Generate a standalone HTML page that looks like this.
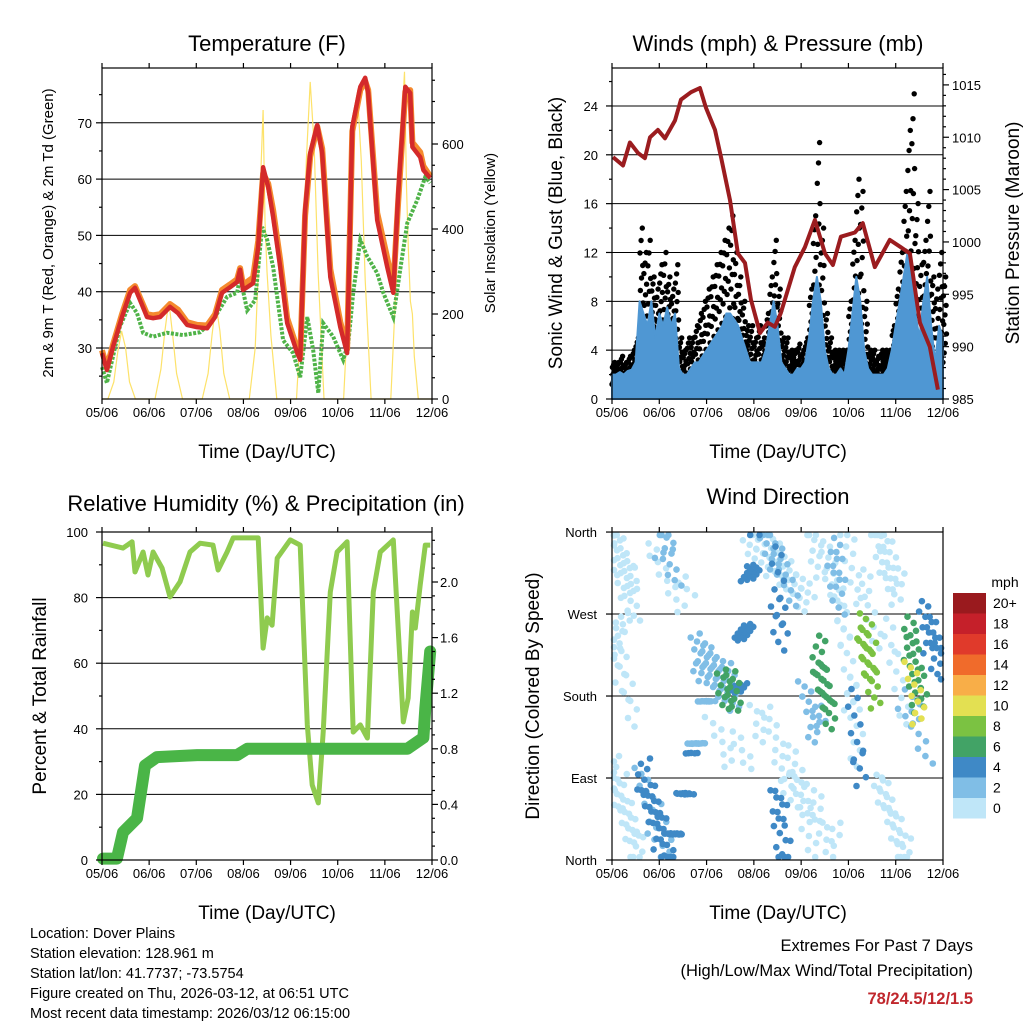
<!DOCTYPE html>
<html><head><meta charset="utf-8"><style>
html,body{margin:0;padding:0;background:#fff}
svg{display:block;font-family:"Liberation Sans",sans-serif}
</style></head><body>
<svg id="chart" xmlns="http://www.w3.org/2000/svg" width="1024" height="1024" viewBox="0 0 1024 1024">
<rect width="1024" height="1024" fill="#fff"/>
<g id="marks"></g>
<g id="axes" fill="none" stroke="#000" stroke-width="1.2"></g>
<g font-size="22" text-anchor="middle" fill="#000">
<text x="267" y="51">Temperature (F)</text>
<text x="778" y="51">Winds (mph) &amp; Pressure (mb)</text>
<text x="266" y="511">Relative Humidity (%) &amp; Precipitation (in)</text>
<text x="778" y="504">Wind Direction</text>
</g>
<g font-size="19" text-anchor="middle">
<text x="267" y="458">Time (Day/UTC)</text>
<text x="778" y="458">Time (Day/UTC)</text>
<text x="267" y="919">Time (Day/UTC)</text>
<text x="778" y="919">Time (Day/UTC)</text>
<text font-size="15" transform="translate(53,233) rotate(-90)">2m &amp; 9m T (Red, Orange) &amp; 2m Td (Green)</text>
<text font-size="15" transform="translate(495,233) rotate(-90)">Solar Insolation (Yellow)</text>
<text transform="translate(562,233) rotate(-90)">Sonic Wind &amp; Gust (Blue, Black)</text>
<text transform="translate(1019,233) rotate(-90)">Station Pressure (Maroon)</text>
<text transform="translate(46,696) rotate(-90)">Percent &amp; Total Rainfall</text>
<text transform="translate(539,696) rotate(-90)">Direction (Colored By Speed)</text>
</g>
<g id="ticklabels" font-size="13" fill="#000"></g>
<g id="legend"></g>
<g font-size="14.5" fill="#000">
<text x="30" y="938">Location: Dover Plains</text>
<text x="30" y="958">Station elevation: 128.961 m</text>
<text x="30" y="978">Station lat/lon: 41.7737; -73.5754</text>
<text x="30" y="998">Figure created on Thu, 2026-03-12, at 06:51 UTC</text>
<text x="30" y="1018">Most recent data timestamp: 2026/03/12 06:15:00</text>
</g>
<g font-size="16.5" text-anchor="end">
<text x="973" y="951">Extremes For Past 7 Days</text>
<text x="973" y="976">(High/Low/Max Wind/Total Precipitation)</text>
<text x="973" y="1004" fill="#c0272d" font-weight="bold">78/24.5/12/1.5</text>
</g>
</svg>
<script>
// ---------- DATA ----------
const dayLabels = ["05/06","06/06","07/06","08/06","09/06","10/06","11/06","12/06"];
const tempTicks = [30,40,50,60,70];
const solarTicks = [0,200,400,600];
const windTicks = [0,4,8,12,16,20,24];
const pressTicks = [985,990,995,1000,1005,1010,1015];
const rhTicks = [0,20,40,60,80,100];
const rainTicks = ["0.0","0.4","0.8","1.2","1.6","2.0"];
const dirTicks = ["North","East","South","West","North"];
const speedLabels = ["0","2","4","6","8","10","12","14","16","18","20+"];

const redHours = [0,2.5,5.6,10.2,14.3,16.8,19.4,22.9,26,29.6,34.6,38.7,43.3,48.4,53.5,57.6,61.1,65.2,68.8,70.3,71.8,76.9,79.5,82,84.6,87.1,90.7,94.3,99.4,100.9,103.4,106,109.6,112.1,116.2,121.3,124.8,127.4,131.5,134,135.5,140.1,145.2,148.3,150.8,154.4,156.9,158,162,163.6,167.1];
const redTemps = [29.1,26.1,30.2,35.5,39.8,40.7,38.5,35.5,35.3,35.5,37.3,36.2,34.1,33.7,33.5,35.5,39.8,40.8,41.7,43.9,40.3,41.5,47.9,62.1,58.6,53.3,44.4,34.4,29.1,27.9,54.5,64.6,69.6,64.6,42.6,33.7,29.1,69.3,76.4,78.0,75.3,52.7,44.4,39.8,57.5,76.4,75.3,65.7,63.9,61.6,60.2];
const orangeTemps = [29.6,26.5,30.6,36,40.3,41,38.9,36,35.8,36,37.8,36.8,34.6,34.1,34,36,40.3,41.3,42.2,44.2,41.2,42.5,49,61,59.2,54.5,45.6,35.3,29.8,28.5,53.5,64,69.3,65.4,44,34.6,29.8,68.5,75.8,77.4,75.8,54,46,41,56,75.5,75.8,66.5,64.8,62.3,60.5];
const dewHours = [0,2.5,9,14.3,17.8,20.9,26,33.1,41.3,50,56.6,63.7,68.8,70.3,73.9,78,81.5,84.1,87.1,92.2,97.3,100.9,104.5,107.5,110.1,112.6,117.7,122.8,125.4,127.9,131.5,135.1,140.1,143.2,148.3,151.8,155.4,160.5,164.6,167.1];
const dewTemps = [26.6,23.8,33.7,38,36.2,32.7,32,32.7,32.3,32.8,35,39.1,39.8,42.6,36.7,38.5,51.5,49.2,44.4,31.4,29.1,24.8,35.5,29.6,22,34.4,32,27.9,30.9,39.8,49.2,46.2,43.3,39.8,35.5,43.9,52.2,56.3,60.4,59.3];
const solarHours = [0,3,6,8,10,12,14,17,27,30,32,34,36,38,41,51,54,56,58,60,62,65,75,78,80,81,82,83,84,86,89,99,102,104,106,108,110,113,123,126,128,130,132,134,137,147,150,152,154,155,156,157,158,159,161,168];
const solarValues = [0,0,40,110,160,120,40,0,0,70,160,230,150,60,0,0,60,150,225,160,60,0,0,120,350,550,680,420,300,150,0,0,250,560,746,600,300,0,0,280,600,720,560,280,0,0,300,600,770,500,350,230,200,100,0,0];

const pressHours = [0.5,5.6,9.1,13.2,16.7,19.3,23.3,26.9,32,35,40.1,44.6,47.7,52.3,55.3,59.9,63.9,67.5,70.5,75.1,79.1,82.7,85.7,92.8,97.9,103,108.1,112.1,116.2,123.3,127.3,133.4,141,146.6,151.2,156.3,161.3,165.4];
const pressValues = [1008.1,1007.3,1009.5,1008.5,1008,1010,1010.7,1009.9,1011.6,1013.6,1014.3,1014.7,1012.8,1010.7,1008.1,1004,998.9,998,994.5,991.3,992.3,991.9,993.2,997.6,999.5,1002.1,998.9,997.8,1000.5,1000.9,1001.8,997.6,1000.2,999.5,998.9,992.3,990,985.9];
const windHours = [0,2,4,6,8,10,12,14,16,18,20,22,24,26,28,30,32,34,36,38,40,42,44,46,48,50,52,54,56,58,60,62,64,66,68,70,72,74,76,78,80,82,84,86,88,90,92,94,96,98,100,102,104,106,108,110,112,114,116,118,120,122,124,126,128,130,132,134,136,138,140,142,144,146,148,150,152,154,156,158,160,162,164,166,168];
const windSpeed = [2,2,2.2,2,2.3,2.4,3,8,7,6,8,5,7,6,7.5,6,7,2.5,2,2,2.5,3,3,3.5,4,4.5,5,5.5,6,7,7,6.5,6,5,4,3,3,3,3,4,6,8,6,3,2.5,2,2,2.5,2.5,3,5,8,10,8,4,2.5,2,2,2.5,2,4,7,10,8,4,2.5,2,2,2,2,2.5,4,6,8,10,12,11,7,5,8,10,6,3,6,5];
const windGust = [3,3,3.5,3,3.5,4,5,14,12,13,10,9,11,12,10,9,11,5,4,5,5,6,7,8,9,10,11,12,13,14,15,12,10,8,6,6,5,6,5,7,10,13,9,5,5,4,4,4.5,4,5,9,15,21,14,7,5,4,4,4,4,8,13,18,17,8,4,4,3.5,4,4,4,6,9,12,17,22,25,16,11,13,17,10,9,12,10];

const rhHours = [0.5,10.7,15.3,16.8,20.9,23.4,26,30.6,34.6,39.7,44.8,49.9,56.5,59.1,63.7,66.8,79.5,82,84.1,86.6,89.2,95.8,100.9,104.5,107,110.1,112.6,116.2,119.7,124.8,127.9,131.5,135.1,138.1,141.7,148.3,153.4,155.9,158,159.5,162,164.6,167.1];
const rhValues = [96.6,95.1,97,87.8,93.9,86.9,93.9,89,80.2,84.8,93.9,96.6,96,88.4,93.9,98.2,98.2,64.6,73.8,71.6,92,97.6,96,41.2,22.9,17.4,39,81.7,93.9,97,39,41.2,37.2,81.7,93.9,97.6,42.1,49.4,75.6,70.7,83.8,96,96];
const rainHours = [0.5,7.6,10.7,17.8,21.9,28,48.4,68.8,73.9,155.4,163.6,164.6,167.1];
const rainValues = [0.01,0.01,0.2,0.3,0.68,0.74,0.755,0.755,0.8,0.8,0.88,1.09,1.5];

// wind-direction streak groups (hour range, direction range in degrees, speed, count)
const streakH0 = [0,0,2,15,15,29,24,40,42,55,63,70,76,83,84,72,98,104,112,115,123,127,134,135,150,152,158,148,100,0,20,50,88,118,140];
const streakH1 = [12,14,10,29,29,41,33,50,62,64,73,100,92,86,87,115,106,111,116,125,126,133,146,150,157,156,167,160,115,8,40,70,104,135,148];
const streakD0 = [355,100,250,95,80,5,355,110,230,195,180,358,355,330,80,170,175,230,350,300,170,262,360,90,260,200,270,180,355,200,330,150,100,350,250];
const streakD1 = [280,5,150,5,10,110,320,185,185,178,355,285,300,230,0,10,140,155,280,120,90,185,290,0,165,170,215,120,300,300,280,100,20,250,170];
const streakSpeed = [0,0,0,4,2,4,2,2,2,6,4,0,2,4,4,0,2,6,2,0,4,8,0,0,6,10,4,2,0,0,0,0,0,0,0];
const streakCount = [40,40,18,40,24,32,16,22,55,22,36,50,26,18,20,50,18,32,18,34,14,32,32,36,30,12,26,14,24,14,16,16,20,24,14];

// ---------- SCALES ----------
const NS='http://www.w3.org/2000/svg';
const marks=document.getElementById('marks'), axes=document.getElementById('axes'), tl=document.getElementById('ticklabels'), leg=document.getElementById('legend');
function mk(tag,parent){const e=document.createElementNS(NS,tag);parent.appendChild(e);return e;}
const xL = h => 102 + h*(330/168);
const xR = h => 612 + h*(331/168);
const yTemp = t => 348 - (t-30)*5.63;
const ySolar = s => 399 - s*0.425;
const yWind = w => 399 - w*12.21;
const yPress = p => 399 - (p-985)*10.47;
const yRH = r => 860 - r*3.28;
const yRain = r => 860 - r*139;
const yDir = d => 860 - d*0.911;
const speedColors = ["#bfe6f8","#80bee6","#3f89c6","#42a366","#7bc242","#e3e052","#f8ae48","#f06b2b","#e03a2b","#c5202a","#9a1a1e"];

function pts(hs,vs,fx,fy){return hs.map((h,i)=>fx(h).toFixed(1)+','+fy(vs[i]).toFixed(1)).join(' ');}

// ---------- GRID ----------
function grid(x0,x1,ys,name){ys.forEach(y=>{const l=mk('line',marks);l.setAttribute('x1',x0);l.setAttribute('x2',x1);l.setAttribute('y1',y);l.setAttribute('y2',y);l.setAttribute('stroke','#000');l.setAttribute('stroke-width','1');

});}
grid(102,432,[30,40,50,60,70].map(yTemp),'temp-gridline');
grid(612,943,[4,8,12,16,20,24].map(yWind),'wind-gridline');
grid(102,432,[20,40,60,80].map(yRH),'rh-gridline');
grid(612,943,[90,180,270].map(yDir),'dir-gridline');

// ---------- TEMPERATURE ----------
const sol=mk('polyline',marks);sol.setAttribute('points',pts(solarHours,solarValues,xL,ySolar));sol.setAttribute('fill','none');sol.setAttribute('stroke','#fde26a');sol.setAttribute('stroke-width','1.2');


const dew=mk('polyline',marks);dew.setAttribute('points',pts(dewHours,dewTemps,xL,yTemp));dew.setAttribute('fill','none');dew.setAttribute('stroke','#4fb348');dew.setAttribute('stroke-width','4');dew.setAttribute('stroke-dasharray','3 1.5');


const org=mk('polyline',marks);org.setAttribute('points',pts(redHours,orangeTemps,xL,yTemp));org.setAttribute('fill','none');org.setAttribute('stroke','#f58a2e');org.setAttribute('stroke-width','6');org.setAttribute('stroke-linejoin','round');


const red=mk('polyline',marks);red.setAttribute('points',pts(redHours,redTemps,xL,yTemp));red.setAttribute('fill','none');red.setAttribute('stroke','#d42a2a');red.setAttribute('stroke-width','4.5');red.setAttribute('stroke-linejoin','round');



// ---------- WINDS ----------
windHours.forEach((h,i)=>{
  const lo=windSpeed[i]*0.6, hi=windGust[i];
  const n=10;
  for(let k=0;k<n;k++){
    const c=mk('circle',marks);
    const fx=((k*3)%n)/n;
    c.setAttribute('cx',(xR(h)+fx*3.9).toFixed(1));
    c.setAttribute('cy',yWind(lo+(hi-lo)*k/(n-1)).toFixed(1));
    c.setAttribute('r','2.7');c.setAttribute('fill','#000');
    
    
  }
});
const wpoly=mk('polygon',marks);
wpoly.setAttribute('points',xR(0)+','+yWind(0)+' '+pts(windHours,windSpeed,xR,yWind)+' '+xR(168)+','+yWind(0));
wpoly.setAttribute('fill','#4f97d3');wpoly.setAttribute('stroke','#4f97d3');wpoly.setAttribute('stroke-width','2');wpoly.setAttribute('stroke-linejoin','round');


const pr=mk('polyline',marks);pr.setAttribute('points',pts(pressHours,pressValues,xR,yPress));pr.setAttribute('fill','none');pr.setAttribute('stroke','#9b1c1f');pr.setAttribute('stroke-width','4');pr.setAttribute('stroke-linejoin','round');



// ---------- RH & RAIN ----------
const rh=mk('polyline',marks);rh.setAttribute('points',pts(rhHours,rhValues,xL,yRH));rh.setAttribute('fill','none');rh.setAttribute('stroke','#8fcb4f');rh.setAttribute('stroke-width','5');rh.setAttribute('stroke-linejoin','round');


const rn=mk('polyline',marks);rn.setAttribute('points',pts(rainHours,rainValues,xL,yRain));rn.setAttribute('fill','none');rn.setAttribute('stroke','#4ab547');rn.setAttribute('stroke-width','12');rn.setAttribute('stroke-linecap','round');rn.setAttribute('stroke-linejoin','round');



// ---------- WIND DIRECTION ----------
let gi=0;
const order=streakSpeed.map((s,i)=>i).sort((a,b)=>streakSpeed[a]-streakSpeed[b]);
order.forEach(s=>{
  const n=streakCount[s];
  for(let k=0;k<n;k++){
    const f=n>1?k/(n-1):0;
    const h=streakH0[s]+(streakH1[s]-streakH0[s])*f;
    const d=streakD0[s]+(streakD1[s]-streakD0[s])*f;
    gi++;
    const jx=((gi*37)%11-5)*1.4, jy=((gi*53)%13-6)*3.2;
    const c=mk('circle',marks);
    c.setAttribute('cx',Math.max(614,Math.min(941,xR(h)+jx)).toFixed(1));
    c.setAttribute('cy',Math.max(535,Math.min(857,yDir(d)+jy)).toFixed(1));
    c.setAttribute('r','3.3');
    c.setAttribute('fill',speedColors[Math.min(10,Math.floor(streakSpeed[s]/2))]);
    
    
  }
});

// ---------- AXES & TICKS ----------
function box(x0,y0,x1,y1,name){const r=mk('rect',axes);r.setAttribute('x',x0);r.setAttribute('y',y0);r.setAttribute('width',x1-x0);r.setAttribute('height',y1-y0);

}
function tick(x1,y1,x2,y2){const l=mk('line',axes);l.setAttribute('x1',x1);l.setAttribute('y1',y1);l.setAttribute('x2',x2);l.setAttribute('y2',y2);

}
function label(x,y,t,anchor,name){const e=mk('text',tl);e.setAttribute('x',x);e.setAttribute('y',y);e.setAttribute('text-anchor',anchor);e.textContent=t;

}
function xAxis(fx,yb,yt,name){dayLabels.forEach((d,i)=>{const x=fx(i*24);tick(x,yb,x,yb+5);tick(x,yt,x,yt-5);label(x,yb+18,d,'middle',name);});}
box(102,68,432,399,'temperature-plot-frame');box(612,68,943,399,'winds-plot-frame');box(102,532,432,860,'humidity-plot-frame');box(612,532,943,860,'direction-plot-frame');
xAxis(xL,399,68,'temp-x-tick-label');xAxis(xR,399,68,'wind-x-tick-label');xAxis(xL,860,532,'rh-x-tick-label');xAxis(xR,860,532,'dir-x-tick-label');
for(let t=25;t<=80;t+=5){const y=yTemp(t);if(y>=68&&y<=399)tick(102,y,t%10?99:96,y);}
tempTicks.forEach(t=>label(92,yTemp(t)+5,t,'end','temp-y-tick-label'));
for(let s=0;s<=750;s+=50){const y=ySolar(s);tick(432,y,s%200?435:438,y);}
solarTicks.forEach(s=>label(442,ySolar(s)+5,s,'start','solar-y-tick-label'));
for(let w=0;w<=27;w+=2){const y=yWind(w);tick(612,y,w%4?609:606,y);}
windTicks.forEach(w=>label(598,yWind(w)+5,w,'end','wind-y-tick-label'));
for(let p=985;p<=1016;p+=1){const y=yPress(p);if(y>=68)tick(943,y,p%5?946:949,y);}
pressTicks.forEach(p=>label(952,yPress(p)+5,p,'start','pressure-y-tick-label'));
for(let r=0;r<=100;r+=10){const y=yRH(r);tick(102,y,r%20?99:96,y);}
rhTicks.forEach(r=>label(88,yRH(r)+5,r,'end','rh-y-tick-label'));
for(let k=0;k<=23;k++){const y=yRain(k/10);tick(432,y,k%4?435:438,y);}
rainTicks.forEach((r,i)=>label(440,yRain(i*0.4)+5,r,'start','rain-y-tick-label'));
dirTicks.forEach((d,i)=>{const y=yDir(i*90);tick(612,y,606,y);label(597,y+5,d,'end','direction-y-tick-label');});

// ---------- LEGEND ----------
const lt=mk('text',leg);lt.setAttribute('x','1005');lt.setAttribute('y','587');lt.setAttribute('font-size','14');lt.setAttribute('text-anchor','middle');lt.textContent='mph';


speedLabels.forEach((s,i)=>{
  const j=10-i, y=593+j*20.5;
  const r=mk('rect',leg);r.setAttribute('x','953');r.setAttribute('y',y);r.setAttribute('width','33');r.setAttribute('height','20.5');r.setAttribute('fill',speedColors[i]);
  
  
  const t=mk('text',leg);t.setAttribute('x','993');t.setAttribute('y',(y+15).toFixed(1));t.setAttribute('font-size','14');t.textContent=s;
  
  
});
</script>
</body></html>
